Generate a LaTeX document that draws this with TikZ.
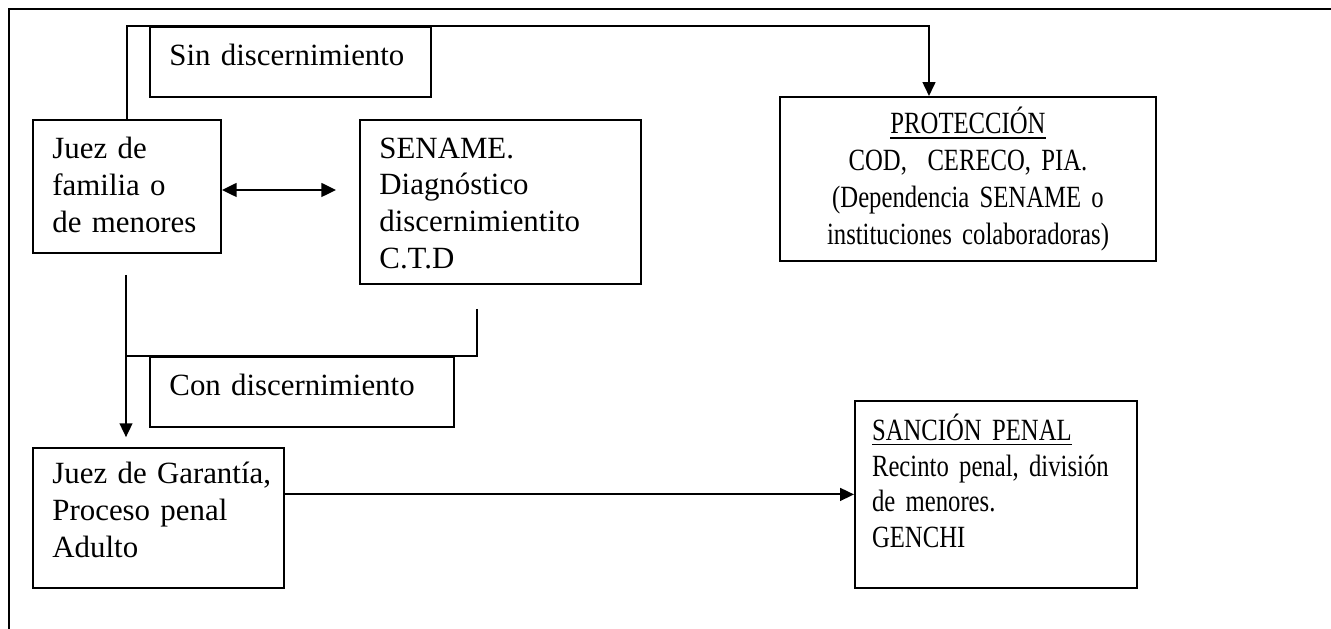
\documentclass[tikz,border=0pt]{standalone}
\usepackage{fontspec}
\setmainfont{Liberation Serif}
\newfontfamily\narrowserif{Liberation Serif}[FakeStretch=0.8]
\usetikzlibrary{positioning,calc}
\usetikzlibrary{arrows.meta}
\hyphenpenalty=10000
\tikzset{
  box/.style={draw=black,line width=0.75pt,anchor=north west,align=left,
    inner xsep=7.3pt,inner ysep=0pt,text height=14.6pt},
  narrow/.style={font=\narrowserif\fontsize{11.6}{13.8}\selectfont},
  link/.style={draw=black,line width=0.7pt},
  tip/.style={-{Triangle[length=5.2pt,width=4.8pt]}},
  both/.style={{Triangle[length=5.5pt,width=5.2pt]}-{Triangle[length=5.5pt,width=5.2pt]}},
}

\begin{document}
\begin{tikzpicture}[x=0.3757pt,y=-0.3757pt,font=\fontsize{11.6}{13.8}\selectfont]
\useasboundingbox (0,0) rectangle (1331,629);
% page frame
\draw[line width=0.75pt] (1331,9) -- (9,9) -- (9,629);

\node[box,text width=90.97pt,text depth=11.6pt] (sin) at (149,26) {Sin discernimiento};
\node[box,text width=56.03pt,text depth=35.3pt] (juez) at (32,119) {Juez de\\familia o\\de menores};
\node[box,text width=90.97pt,text height=14.3pt,text depth=47.3pt] (sename) at (359,119)
  {SENAME.\\Diagnóstico\\discernimientito\\C.T.D};
\node[box,narrow,align=center,text width=126.66pt,text height=13.9pt,text depth=47.7pt] (prot) at (779,96)
  {\underline{PROTECCIÓN}\\COD,\ \ CERECO, PIA.\\(Dependencia SENAME o\\instituciones colaboradoras)};
\node[box,text width=99.61pt,text depth=11.6pt] (con) at (149,356) {Con discernimiento};
\node[box,text width=79.7pt,text height=13.5pt,text depth=39.1pt] (gar) at (32,447)
  {\mbox{Juez de Garantía,}\\Proceso penal\\Adulto};
\node[box,narrow,font=\narrowserif\fontsize{11.6}{13.3}\selectfont,inner xsep=6.4pt,
  text width=93.15pt,text height=15pt,text depth=55.2pt] (san) at (854,400)
  {\underline{SANCIÓN PENAL}\\Recinto penal, división\\de menores.\\GENCHI};

\coordinate (turn) at (929,26);
\coordinate (dbl) at (336,190);
\coordinate (lowA) at (126,275);
\coordinate (lowB) at (477,309);

\draw[link,tip] (juez.north) |- (turn) -- (turn |- prot.north);
\draw[link,both] (juez.east |- dbl) -- (dbl);
\draw[link] (lowB) |- (lowA |- con.north);
\draw[link,tip,shorten >=3.7pt] (lowA) -- (lowA |- gar.north);
\draw[link,tip] (san.west -| gar.east) -- (san.west);
\end{tikzpicture}
\end{document}
